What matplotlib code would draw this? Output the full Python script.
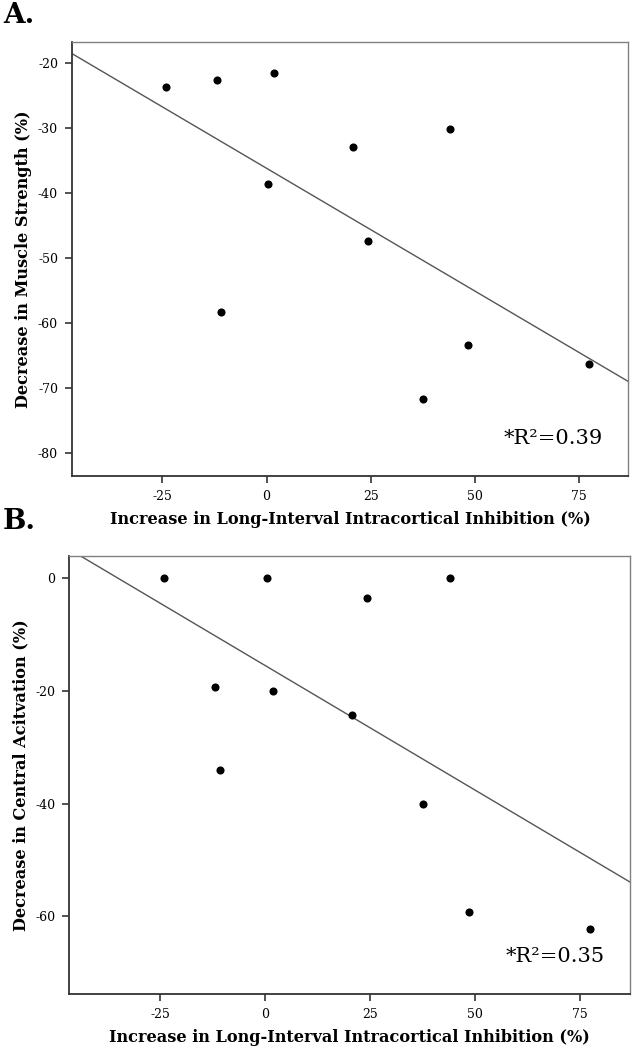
"""
LICI vs muscle strength / central activation scatter with fit lines
"""

import numpy as np
import matplotlib

matplotlib.use("Agg")
import matplotlib.pyplot as plt

plt.rcParams["font.family"] = ["DejaVu Serif"]
plt.rcParams["axes.unicode_minus"] = False

# Increase in LICI (%), one value per subject
lici = [-24.1, -12.0, 1.9, 0.4, 20.7, 44.0, 24.3, -10.9, 48.4, 77.4, 37.6]
# panel A: decrease in muscle strength (%)
strength = [-23.7, -22.5, -21.4, -38.5, -32.9, -30.1, -47.3, -58.3, -63.4, -66.3, -71.6]
# panel B: decrease in central activation (%)
activation = [0.0, -19.4, -20.0, 0.0, -24.3, 0.0, -3.5, -34.0, -59.3, -62.3, -40.0]

x_ticks = [-25, 0, 25, 50, 75]
yticks_a = [-20, -30, -40, -50, -60, -70, -80]
yticks_b = [0, -20, -40, -60]

xlabel = "Increase in Long-Interval Intracortical Inhibition (%)"
panels = [
    ("A.", strength, "Decrease in Muscle Strength (%)", yticks_a, (-83.5, -16.7), "*R²=0.39"),
    ("B.", activation, "Decrease in Central Acitvation (%)", yticks_b, (-73.8, 3.96), "*R²=0.35"),
]
boxes = [[0.1139, 0.5467, 0.880, 0.4133], [0.1097, 0.0533, 0.887, 0.4174]]
tags_y = [0.985, 0.503]

fig = plt.figure(figsize=(6.32, 10.5), dpi=100)
xlim = (-46.7, 86.8)

for (tag, yvals, ylabel, yt, ylim, r2), box, ty in zip(panels, boxes, tags_y):
    ax = fig.add_axes(box)
    x = np.array(lici)
    y = np.array(yvals)
    ax.scatter(x, y, s=34, color="black", zorder=3, linewidths=0)

    # least squares fit line across the whole axis
    k, b = np.polyfit(x, y, 1)
    xx = np.array(xlim)
    ax.plot(xx, k * xx + b, color="#555555", lw=1.0, zorder=2)

    ax.set_xlim(xlim)
    ax.set_ylim(ylim)
    ax.set_xticks(x_ticks)
    ax.set_yticks(yt)
    ax.tick_params(direction="out", length=5, width=1.2, labelsize=9, color="#333333", pad=5)
    for s in ["left", "bottom"]:
        ax.spines[s].set_color("#333333")
        ax.spines[s].set_linewidth(1.3)
    for s in ["top", "right"]:
        ax.spines[s].set_color("#808080")
        ax.spines[s].set_linewidth(1.0)

    ax.set_xlabel(xlabel, fontsize=11.6, fontweight="bold", labelpad=6)
    ax.set_ylabel(ylabel, fontsize=11.6, fontweight="bold", labelpad=4)
    ax.text(0.955, 0.065, r2, transform=ax.transAxes, ha="right", va="bottom", fontsize=15)

    fig.text(0.005, ty, tag, fontsize=20, fontweight="bold", ha="left", va="center")

fig.savefig("out.png", dpi=100)
